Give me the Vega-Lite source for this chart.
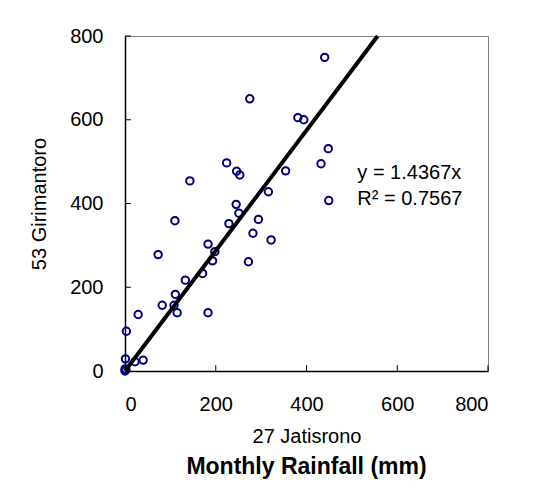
{
  "$schema": "https://vega.github.io/schema/vega-lite/v6.json",
  "width": 363,
  "height": 335,
  "autosize": {"type": "none"},
  "padding": {"left": 125, "top": 36, "right": 52, "bottom": 122},
  "background": "white",
  "config": {
    "font": "Liberation Sans",
    "view": {"stroke": "#808080", "strokeWidth": 1}
  },
  "title": {
    "text": "Monthly Rainfall (mm)",
    "orient": "bottom",
    "anchor": "middle",
    "font": "Liberation Sans",
    "fontSize": 23,
    "fontWeight": "bold",
    "color": "black",
    "offset": 10
  },
  "layer": [
    {
      "data": {"values": [{"v": 200}, {"v": 400}, {"v": 600}, {"v": 800}]},
      "mark": {"type": "rule", "color": "black", "strokeWidth": 1},
      "encoding": {
        "x": {"field": "v", "type": "quantitative"},
        "y": {"datum": 0, "type": "quantitative"},
        "y2": {"datum": 14}
      }
    },
    {
      "data": {"values": [{"v": 200}, {"v": 400}, {"v": 600}, {"v": 800}]},
      "mark": {"type": "rule", "color": "black", "strokeWidth": 1},
      "encoding": {
        "y": {"field": "v", "type": "quantitative"},
        "x": {"datum": 0, "type": "quantitative"},
        "x2": {"datum": 13}
      }
    },
    {
      "data": {
        "values": [
          {"x": 0, "y": 0}, {"x": 0, "y": 5}, {"x": 2, "y": 3}, {"x": 1, "y": 29},
          {"x": 22, "y": 22}, {"x": 40, "y": 26}, {"x": 3, "y": 95}, {"x": 29, "y": 135},
          {"x": 73, "y": 278}, {"x": 82, "y": 157}, {"x": 108, "y": 157}, {"x": 111, "y": 183},
          {"x": 115, "y": 139}, {"x": 110, "y": 359}, {"x": 133, "y": 217}, {"x": 143, "y": 454},
          {"x": 171, "y": 233}, {"x": 183, "y": 139}, {"x": 183, "y": 303}, {"x": 193, "y": 263},
          {"x": 198, "y": 285}, {"x": 224, "y": 497}, {"x": 229, "y": 352}, {"x": 245, "y": 398},
          {"x": 246, "y": 477}, {"x": 251, "y": 377}, {"x": 253, "y": 468}, {"x": 272, "y": 261},
          {"x": 275, "y": 650}, {"x": 282, "y": 329}, {"x": 294, "y": 362}, {"x": 316, "y": 428},
          {"x": 322, "y": 313}, {"x": 354, "y": 478}, {"x": 381, "y": 605}, {"x": 394, "y": 600},
          {"x": 432, "y": 495}, {"x": 440, "y": 749}, {"x": 448, "y": 531}, {"x": 449, "y": 407}
        ]
      },
      "mark": {"type": "point", "shape": "circle", "filled": false, "stroke": "#000080", "strokeWidth": 2, "size": 55, "opacity": 1},
      "encoding": {
        "x": {
          "field": "x", "type": "quantitative",
          "scale": {"domain": [0, 800], "nice": false, "zero": true},
          "axis": {
            "title": "27 Jatisrono", "values": [0, 200, 400, 600, 800], "grid": false,
            "ticks": false, "labelPadding": 23,
            "labelFontSize": 20, "labelColor": "black", "labelFont": "Liberation Sans",
            "titleFontSize": 20, "titleFontWeight": "normal", "titleColor": "black", "titleFont": "Liberation Sans",
            "titlePadding": 12, "domainColor": "black", "domainWidth": 1.5
          }
        },
        "y": {
          "field": "y", "type": "quantitative",
          "scale": {"domain": [0, 800], "nice": false, "zero": true},
          "axis": {
            "title": "53 Girimantoro", "values": [0, 200, 400, 600, 800], "grid": false,
            "ticks": false, "labelPadding": 22,
            "labelFontSize": 20, "labelColor": "black", "labelFont": "Liberation Sans",
            "titleFontSize": 20, "titleFontWeight": "normal", "titleColor": "black", "titleFont": "Liberation Sans",
            "titlePadding": 20, "domainColor": "black", "domainWidth": 1.5
          }
        }
      }
    },
    {
      "data": {"values": [{"x": 0, "y": 0}, {"x": 556.8, "y": 800}]},
      "mark": {"type": "line", "color": "black", "strokeWidth": 4},
      "encoding": {
        "x": {"field": "x", "type": "quantitative"},
        "y": {"field": "y", "type": "quantitative"}
      }
    },
    {
      "data": {"values": [{"label": "y = 1.4367x", "lx": 512, "ly": 458}, {"label": "R² = 0.7567", "lx": 512, "ly": 396}]},
      "mark": {"type": "text", "align": "left", "baseline": "alphabetic", "fontSize": 20, "font": "Liberation Sans", "color": "black"},
      "encoding": {
        "x": {"field": "lx", "type": "quantitative"},
        "y": {"field": "ly", "type": "quantitative"},
        "text": {"field": "label"}
      }
    }
  ]
}
